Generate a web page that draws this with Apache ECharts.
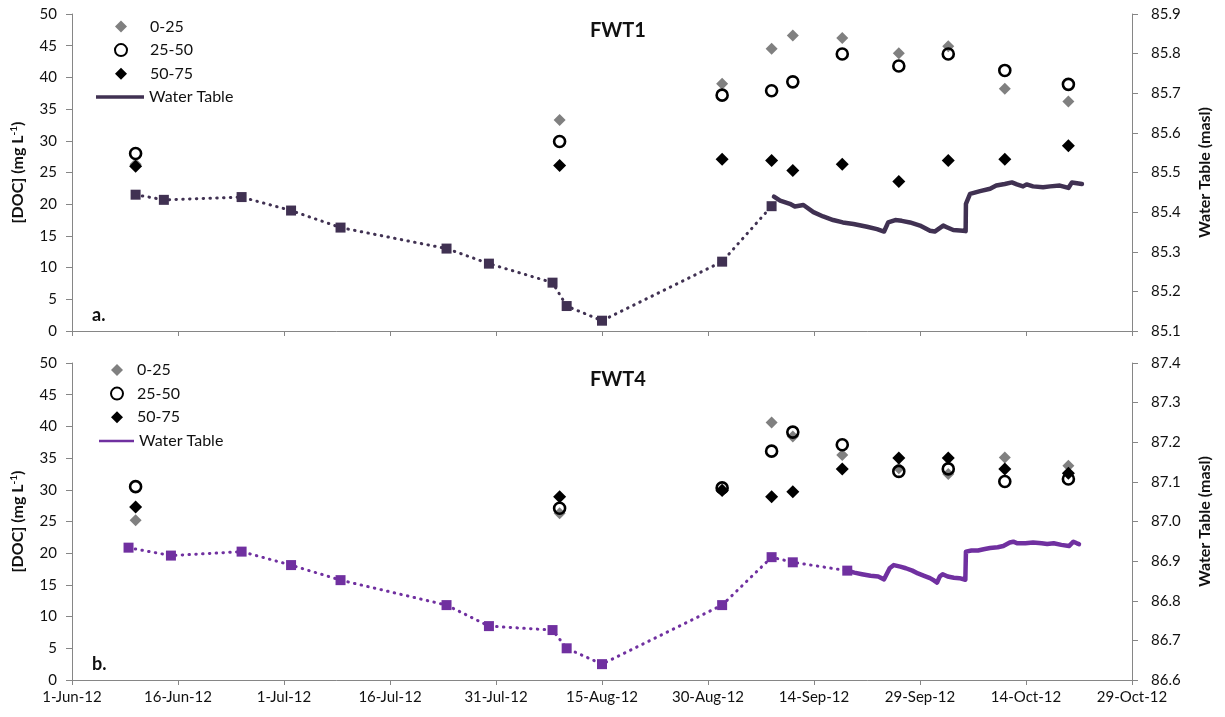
<!DOCTYPE html>
<html>
<head>
<meta charset="utf-8">
<script src="https://cdn.jsdelivr.net/npm/echarts@6/dist/echarts.min.js"></script>
<style>
  html, body { margin: 0; padding: 0; background: #ffffff; }
  #chart { width: 1225px; height: 717px; }
</style>
</head>
<body>
<div id="chart"></div>
<script>
// ---- Sampling dates for dissolved organic carbon (both wells) ----
const docDates = ['2012-06-10', '2012-08-09', '2012-09-01', '2012-09-08', '2012-09-11',
                  '2012-09-18', '2012-09-26', '2012-10-03', '2012-10-11', '2012-10-20'];

// FWT1 [DOC] (mg/L) by depth interval (cm)
const fwt1Doc0to25  = [26.3, 33.3, 39.0, 44.5, 46.6, 46.2, 43.8, 44.9, 38.2, 36.2];
const fwt1Doc25to50 = [28.0, 29.9, 37.2, 37.9, 39.3, 43.7, 41.8, 43.7, 41.1, 38.9];
const fwt1Doc50to75 = [26.0, 26.1, 27.1, 26.9, 25.3, 26.3, 23.6, 26.9, 27.1, 29.2];

// FWT4 [DOC] (mg/L) by depth interval (cm)
const fwt4Doc0to25  = [25.2, 26.3, 30.1, 40.6, 38.4, 35.5, 33.4, 32.5, 35.1, 33.8];
const fwt4Doc25to50 = [30.5, 27.1, 30.3, 36.1, 39.1, 37.1, 32.9, 33.3, 31.3, 31.7];
const fwt4Doc50to75 = [27.3, 28.9, 29.9, 28.9, 29.7, 33.3, 35.0, 35.0, 33.3, 32.6];

// ---- Manual water table readings (masl) ----
const fwt1ManualDates = ['2012-06-10', '2012-06-14', '2012-06-25', '2012-07-02', '2012-07-09', '2012-07-24',
                         '2012-07-30', '2012-08-08', '2012-08-10', '2012-08-15', '2012-09-01', '2012-09-08'];
const fwt1ManualLevels = [85.444, 85.431, 85.438, 85.404, 85.361, 85.308,
                          85.270, 85.222, 85.163, 85.126, 85.275, 85.415];

const fwt4ManualDates = ['2012-06-09', '2012-06-15', '2012-06-25', '2012-07-02', '2012-07-09', '2012-07-24',
                         '2012-07-30', '2012-08-08', '2012-08-10', '2012-08-15', '2012-09-01', '2012-09-08',
                         '2012-09-11', '2012-09-18 17:00'];
const fwt4ManualLevels = [86.934, 86.914, 86.924, 86.890, 86.852, 86.789,
                          86.736, 86.726, 86.680, 86.640, 86.789, 86.910,
                          86.897, 86.876];

// ---- Pressure logger water table (masl) ----
const fwt1LoggerTimes = ['2012-09-08 08:00', '2012-09-09 05:00', '2012-09-10 14:00', '2012-09-11 07:00', '2012-09-12 12:00',
  '2012-09-13 22:00', '2012-09-15 07:00', '2012-09-16 17:00', '2012-09-18 02:00', '2012-09-19 14:00', '2012-09-21 12:00',
  '2012-09-22 22:00', '2012-09-23 22:00', '2012-09-24 12:00', '2012-09-25 12:00', '2012-09-26 10:00', '2012-09-27 14:00',
  '2012-09-29 00:00', '2012-09-30 10:00', '2012-10-01 02:00', '2012-10-02 07:00', '2012-10-02 19:00', '2012-10-03 17:00',
  '2012-10-05 02:00', '2012-10-05 11:00', '2012-10-05 12:00', '2012-10-06 02:00', '2012-10-07 12:00', '2012-10-08 22:00',
  '2012-10-09 19:00', '2012-10-11 00:00', '2012-10-12 00:00', '2012-10-12 17:00', '2012-10-13 14:00', '2012-10-14 02:00',
  '2012-10-15 00:00', '2012-10-16 10:00', '2012-10-17 10:00', '2012-10-18 19:00', '2012-10-20 00:00', '2012-10-20 12:00',
  '2012-10-21 05:00', '2012-10-21 22:00'];
const fwt1LoggerLevels = [85.439, 85.429, 85.421, 85.414, 85.418,
  85.400, 85.389, 85.380, 85.374, 85.370, 85.363,
  85.357, 85.351, 85.374, 85.380, 85.378, 85.374,
  85.366, 85.353, 85.351, 85.366, 85.362, 85.355,
  85.353, 85.352, 85.421, 85.446, 85.453, 85.459,
  85.467, 85.471, 85.475, 85.470, 85.465, 85.470,
  85.465, 85.463, 85.465, 85.467, 85.461, 85.475,
  85.473, 85.471];

const fwt4LoggerTimes = ['2012-09-18 17:00', '2012-09-19 17:00', '2012-09-20 19:00', '2012-09-22 00:00', '2012-09-23 02:00',
  '2012-09-23 22:00', '2012-09-24 17:00', '2012-09-25 07:00', '2012-09-26 05:00', '2012-09-27 00:00', '2012-09-27 22:00',
  '2012-09-28 17:00', '2012-09-29 14:00', '2012-09-30 10:00', '2012-10-01 00:00', '2012-10-01 10:00', '2012-10-01 19:00',
  '2012-10-02 05:00', '2012-10-02 22:00', '2012-10-03 19:00', '2012-10-04 14:00', '2012-10-05 10:00', '2012-10-05 12:00',
  '2012-10-06 07:00', '2012-10-07 05:00', '2012-10-08 00:00', '2012-10-08 22:00', '2012-10-10 00:00', '2012-10-10 19:00',
  '2012-10-11 17:00', '2012-10-12 05:00', '2012-10-12 19:00', '2012-10-13 22:00', '2012-10-15 00:00', '2012-10-16 05:00',
  '2012-10-17 00:00', '2012-10-17 22:00', '2012-10-19 00:00', '2012-10-20 02:00', '2012-10-20 17:00', '2012-10-21 05:00',
  '2012-10-21 12:00'];
const fwt4LoggerLevels = [86.876, 86.871, 86.867, 86.863, 86.861,
  86.854, 86.882, 86.890, 86.886, 86.882, 86.876,
  86.869, 86.863, 86.857, 86.851, 86.846, 86.861,
  86.867, 86.861, 86.858, 86.857, 86.853, 86.924,
  86.927, 86.927, 86.930, 86.933, 86.935, 86.938,
  86.947, 86.949, 86.945, 86.945, 86.947, 86.945,
  86.943, 86.945, 86.941, 86.938, 86.949, 86.945,
  86.943];

// ---- Axis tick labels ----
const dateTickLabels = ['1-Jun-12', '16-Jun-12', '1-Jul-12', '16-Jul-12', '31-Jul-12', '15-Aug-12',
                        '30-Aug-12', '14-Sep-12', '29-Sep-12', '14-Oct-12', '29-Oct-12'];

// Days elapsed since 1 June 2012 (x axis runs 0..150 days)
const SEASON_START = Date.UTC(2012, 5, 1);
function dayOfSeason(s) {
  const parts = s.split(' ');
  const ymd = parts[0].split('-').map(Number);
  const hour = parts[1] ? Number(parts[1].split(':')[0]) : 0;
  return (Date.UTC(ymd[0], ymd[1] - 1, ymd[2], hour) - SEASON_START) / 86400000;
}
function pairs(dates, values) {
  return dates.map((d, i) => [dayOfSeason(d), values[i]]);
}

const FONT = 'Lato, "Open Sans", sans-serif';
const AXIS_GREY = '#868686';
const TEXT = '#111111';
const PANEL = [
  { top: 14, color: '#403152', levelMin: 85.1, levelMax: 85.9, title: 'FWT1', tag: 'a.',
    d0: fwt1Doc0to25, d1: fwt1Doc25to50, d2: fwt1Doc50to75,
    mDates: fwt1ManualDates, mLevels: fwt1ManualLevels, lTimes: fwt1LoggerTimes, lLevels: fwt1LoggerLevels,
    markerLeft: 114, markerTop: 18.5, textPad: 18, lineLeft: 96, lineTop: 89, lineW: 48 },
  { top: 363, color: '#7030a0', levelMin: 86.6, levelMax: 87.4, title: 'FWT4', tag: 'b.',
    d0: fwt4Doc0to25, d1: fwt4Doc25to50, d2: fwt4Doc50to75,
    mDates: fwt4ManualDates, mLevels: fwt4ManualLevels, lTimes: fwt4LoggerTimes, lLevels: fwt4LoggerLevels,
    markerLeft: 110, markerTop: 362, textPad: 9, lineLeft: 99, lineTop: 433, lineW: 35 }
];
const GRID_LEFT = 72, GRID_WIDTH = 1060, GRID_HEIGHT = 317;

const grids = [], xAxes = [], yAxes = [], series = [], legends = [], texts = [];

PANEL.forEach((p, k) => {
  grids.push({ left: GRID_LEFT, top: p.top, width: GRID_WIDTH, height: GRID_HEIGHT,
               containLabel: false, outerBoundsMode: 'none' });

  xAxes.push({
    gridIndex: k, type: 'value', min: 0, max: 150, interval: 15,
    axisLine: { show: true, onZero: false, lineStyle: { color: AXIS_GREY, width: 1 } },
    axisTick: { show: true, length: 5, lineStyle: { color: AXIS_GREY } },
    splitLine: { show: false },
    axisLabel: {
      show: k === 1, margin: 10, color: TEXT, fontFamily: FONT, fontSize: 15,
      hideOverlap: false, showMinLabel: true, showMaxLabel: true,
      formatter: v => dateTickLabels[Math.round(v / 15)] || ''
    }
  });

  yAxes.push({
    gridIndex: k, type: 'value', position: 'left', min: 0, max: 50, interval: 5,
    axisLine: { show: true, lineStyle: { color: AXIS_GREY, width: 1 } },
    axisTick: { show: true, length: 6, lineStyle: { color: AXIS_GREY } },
    splitLine: { show: false },
    axisLabel: { margin: 15, color: TEXT, fontFamily: FONT, fontSize: 15, showMinLabel: true, showMaxLabel: true },
    name: '[DOC] (mg L{sup|-1})', nameLocation: 'middle', nameRotate: 90, nameGap: 45, nameMoveOverlap: false,
    nameTextStyle: {
      color: TEXT, fontFamily: FONT, fontSize: 16, fontWeight: 'bold',
      rich: { sup: { color: TEXT, fontFamily: FONT, fontSize: 10, fontWeight: 'bold', verticalAlign: 'top', lineHeight: 18 } }
    }
  });

  yAxes.push({
    gridIndex: k, type: 'value', position: 'right', min: p.levelMin, max: p.levelMax, interval: 0.1,
    axisLine: { show: true, lineStyle: { color: AXIS_GREY, width: 1 } },
    axisTick: { show: true, length: 6, lineStyle: { color: AXIS_GREY } },
    splitLine: { show: false },
    axisLabel: { margin: 19, color: TEXT, fontFamily: FONT, fontSize: 15, showMinLabel: true, showMaxLabel: true,
                 formatter: v => v.toFixed(1) },
    name: 'Water Table (masl)', nameLocation: 'middle', nameRotate: 90, nameGap: 65, nameMoveOverlap: false,
    nameTextStyle: { color: TEXT, fontFamily: FONT, fontSize: 16, fontWeight: 'bold' }
  });

  const yDoc = 2 * k, yLevel = 2 * k + 1;

  series.push({
    name: '0-25', type: 'scatter', xAxisIndex: k, yAxisIndex: yDoc,
    symbol: 'diamond', symbolSize: 12, itemStyle: { color: '#808080', opacity: 1 },
    data: pairs(docDates, p.d0)
  });
  series.push({
    name: '25-50', type: 'scatter', xAxisIndex: k, yAxisIndex: yDoc,
    symbol: 'circle', symbolSize: 11,
    itemStyle: { color: 'rgba(0,0,0,0)', borderColor: '#000000', borderWidth: 2.6, opacity: 1 },
    data: pairs(docDates, p.d1)
  });
  series.push({
    name: '50-75', type: 'scatter', xAxisIndex: k, yAxisIndex: yDoc,
    symbol: 'diamond', symbolSize: 13, itemStyle: { color: '#000000', opacity: 1 },
    data: pairs(docDates, p.d2)
  });
  // continuous logger record
  series.push({
    name: 'Water Table', type: 'line', xAxisIndex: k, yAxisIndex: yLevel,
    symbol: 'none', smooth: false, color: p.color,
    lineStyle: { color: p.color, width: 4.5, join: 'round', cap: 'round' },
    itemStyle: { color: p.color },
    data: pairs(p.lTimes, p.lLevels)
  });
  // manual dip readings joined by a dotted line
  series.push({
    name: 'Water Table', type: 'line', xAxisIndex: k, yAxisIndex: yLevel,
    symbol: 'rect', symbolSize: 10, showSymbol: true, smooth: false, color: p.color,
    lineStyle: { color: p.color, width: 3, type: [0.5, 6.3], cap: 'round' },
    itemStyle: { color: p.color },
    data: pairs(p.mDates, p.mLevels)
  });

  // depth-interval markers
  legends.push({
    orient: 'vertical', left: p.markerLeft, top: p.markerTop, padding: 0,
    itemWidth: 12, itemHeight: 12, itemGap: 7.6, selectedMode: false,
    textStyle: { color: TEXT, fontFamily: FONT, fontSize: 16, lineHeight: 16, padding: [0, 0, 0, p.textPad] },
    data: ['0-25', '25-50', '50-75']
  });
  // water table line
  legends.push({
    orient: 'vertical', left: p.lineLeft, top: p.lineTop, padding: 0,
    itemWidth: p.lineW, itemHeight: 11, selectedMode: false,
    textStyle: { color: TEXT, fontFamily: FONT, fontSize: 16, lineHeight: 16 },
    data: [{ name: 'Water Table', icon: 'path://M0,0L48,0L48,3.6L0,3.6Z',
             itemStyle: { color: p.color, borderWidth: 0 } }]
  });

  texts.push({ type: 'text', left: 590, top: p.top + 7,
               style: { text: p.title, font: 'bold 20px ' + FONT, fill: TEXT } });
  texts.push({ type: 'text', left: 92, top: p.top + 292,
               style: { text: p.tag, font: 'bold 18px ' + FONT, fill: TEXT } });
});

const chart = echarts.init(document.getElementById('chart'), null, { renderer: 'canvas' });
chart.setOption({
  backgroundColor: '#ffffff',
  animation: false,
  grid: grids,
  xAxis: xAxes,
  yAxis: yAxes,
  legend: legends,
  series: series,
  graphic: texts
});
</script>
</body>
</html>
